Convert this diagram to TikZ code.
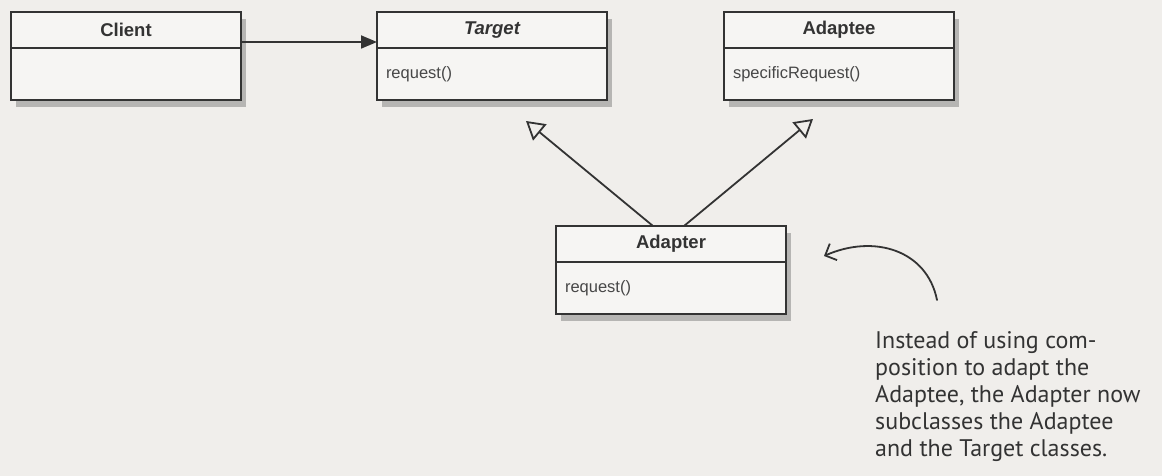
\documentclass[tikz,border=0pt]{standalone}
\usepackage{fontspec}
\setmainfont{Liberation Sans}
\newfontfamily\handfont{PT Sans}
\usetikzlibrary{positioning,arrows.meta,shadows}
\definecolor{paper}{HTML}{F0EEEB}
\definecolor{boxfill}{HTML}{F6F5F3}
\definecolor{ink}{HTML}{333333}
\tikzset{
  umlbox/.style={draw=ink, line width=1.8pt, fill=boxfill, outer sep=0pt, minimum width=230pt, inner sep=6pt,
    drop shadow={shadow xshift=5pt, shadow yshift=-7pt, fill=black!70, opacity=0.35}},
  classhead/.style={umlbox, minimum height=36pt, text=ink, font=\fontsize{18.5}{21}\selectfont\bfseries},
  classbody/.style={umlbox, minimum height=52pt, inner xsep=9pt, text width=212pt, align=left, text=ink!90, font=\fontsize{16.5}{19}\selectfont},
  assoc/.style={draw=ink, line width=1.8pt, -{Triangle[length=16pt,width=13pt]}},
  inherit/.style={draw=ink, line width=1.8pt, -{Triangle[open,length=18pt,width=21pt,fill=paper]}},
  pointer/.style={draw=ink, line width=1.8pt, line cap=round, -{Straight Barb[length=9pt,width=18pt]}},
  note/.style={font=\handfont\fontsize{24}{27}\selectfont, text=ink, align=left, inner sep=0pt}
}
\begin{document}
\begin{tikzpicture}[x=1pt,y=-1pt]
  \fill[paper] (0,0) rectangle (1162,476);
  \useasboundingbox (0,0) rectangle (1162,476);

  % classes
  \node[classhead] (clienthead) at (126,30) {Client};
  \node[classbody, below=0pt of clienthead] (clientbody) {};
  \node[classhead] (targethead) at (492,30) {\itshape Target};
  \node[classbody, below=0pt of targethead] (targetbody) {request()};
  \node[classhead] (adapteehead) at (839,30) {Adaptee};
  \node[classbody, below=0pt of adapteehead] (adapteebody) {specificRequest()};
  \node[classhead] (adapterhead) at (671,244) {Adapter};
  \node[classbody, below=0pt of adapterhead] (adapterbody) {request()};

  % links
  \draw[assoc] ([yshift=-12pt]clienthead.east) -- ([yshift=-12pt]targethead.west);
  \draw[inherit] ([xshift=-18pt]adapterhead.north) -- ([xshift=34pt,yshift=-21pt]targetbody.south);
  \draw[inherit] ([xshift=13pt]adapterhead.north) -- ([xshift=-26pt,yshift=-19pt]adapteebody.south);

  % hand note
  \node[note, anchor=north west] (note) at (875,331) {Instead of using com-\\position to adapt the\\Adaptee, the Adapter now\\subclasses the Adaptee\\and the Target classes.};
  \draw[pointer] ([xshift=62pt,yshift=31pt]note.north west) .. controls +(-10,-50) and +(50,-22) .. ([xshift=38pt,yshift=6pt]adapterbody.north east);
\end{tikzpicture}
\end{document}
